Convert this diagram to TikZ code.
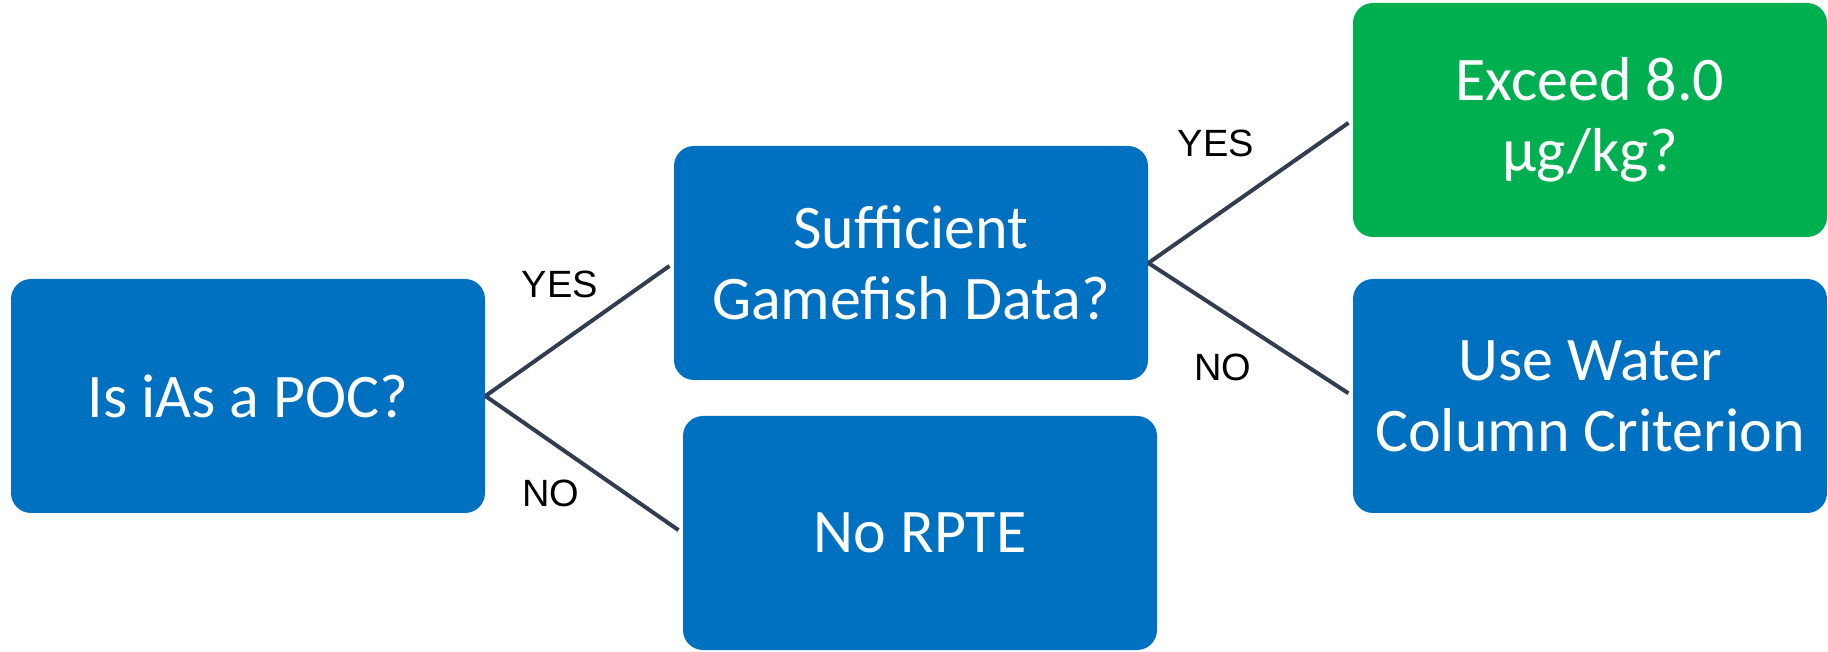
\documentclass[tikz,border=0pt]{standalone}
\usepackage{fontspec}
\setmainfont{Carlito}
\newfontfamily\answerfont{Liberation Sans}
\usetikzlibrary{positioning}
\definecolor{box-blue}{HTML}{0070C0}
\definecolor{box-green}{HTML}{00B050}
\definecolor{link-gray}{HTML}{323E4F}

\begin{document}
\begin{tikzpicture}[x=0.5pt, y=-0.5pt, font=\fontsize{31}{35.5}\selectfont,
  question/.style={fill=box-blue, text=white, rounded corners=10pt, align=center,
    minimum width=237pt, minimum height=117pt, inner sep=0pt},
  answer/.style={font=\answerfont\fontsize{19}{22}\selectfont, inner sep=2pt}]
\useasboundingbox (0,0) rectangle (1828,652);
\node[question]
  (poc)
  at (248, 396)
  {Is iAs a POC?};
\node[question]
  (gamefish)
  at (911, 263)
  {Sufficient\\Gamefish Data?};
\node[question]
  (no-rpte)
  at (920, 533)
  {No RPTE};
\node[question, fill=box-green]
  (exceed)
  at (1590, 120)
  {Exceed 8.0\\µg/kg?};
\node[question]
  (water)
  at (1590, 396)
  {Use Water\\Column Criterion};
\foreach \from/\to/\answer/\x/\y in {
    poc/gamefish/YES/560/284,
    poc/no-rpte/NO/551/493,
    gamefish/exceed/YES/1216/143,
    gamefish/water/NO/1223/367} {
  \draw[link-gray, line width=2pt, shorten >=2.5pt] (\from.east) -- (\to.west);
  \node[answer]
    (answer-\to)
    at (\x, \y)
    {\answer};
}
\end{tikzpicture}
\end{document}
